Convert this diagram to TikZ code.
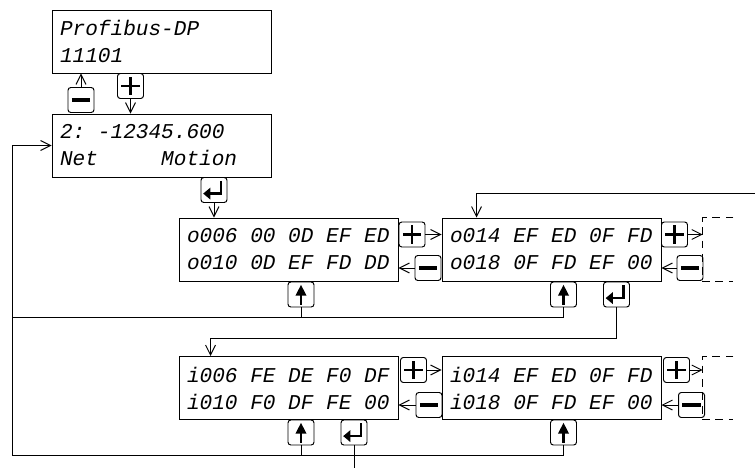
\documentclass[tikz,border=0pt]{standalone}
\usepackage{fontspec}
\setmonofont{Liberation Mono}[WordSpace={1,0,0}]
\usetikzlibrary{arrows.meta,positioning,calc}
% display font, with spaces as wide as a digit
\newcommand\lcdfont{\ttfamily\itshape\fontsize{15}{19.2}\selectfont
  \fontdimen2\font=0.6em\relax\fontdimen3\font=0pt\relax\fontdimen4\font=0pt\relax}

\begin{document}
\begin{tikzpicture}[
  every node/.style={font=\lcdfont},
  lcd/.style={draw, line width=0.7pt, minimum width=5.475cm, minimum height=1.575cm,
              text width=5.075cm, inner xsep=0.2cm, align=flush left,
              execute at begin node={\spaceskip=0pt\xspaceskip=0pt}},
  key/.style={draw, line width=0.7pt, rounded corners=2pt,
              minimum width=0.65cm, minimum height=0.625cm, inner sep=0pt},
  pluskey/.style={key, path picture={
      \coordinate (k) at (path picture bounding box.center);
      \draw[sharp corners, line width=2.1pt] (k) ++(-0.23,0) -- ++(0.46,0)
                                             (k) ++(0,-0.23) -- ++(0,0.46);}},
  minuskey/.style={key, path picture={
      \coordinate (k) at (path picture bounding box.center);
      \draw[sharp corners, line width=2.4pt] (k) ++(-0.23,0) -- ++(0.46,0);}},
  upkey/.style={key, path picture={
      \coordinate (k) at (path picture bounding box.center);
      \fill[sharp corners] (k) ++(0,0.24) -- ++(-0.14,-0.27) -- ++(0.28,0) -- cycle;
      \draw[sharp corners, line width=1.6pt] (k) -- ++(0,-0.26);}},
  enterkey/.style={key, path picture={
      \coordinate (k) at (path picture bounding box.center);
      \draw[sharp corners, line width=1.8pt] (k) ++(0.17,0.23) |- ++(-0.27,-0.32);
      \fill[sharp corners] (k) ++(-0.27,-0.09) -- ++(0.18,0.15) -- ++(0,-0.30) -- cycle;}},
  nextpage/.style={minimum width=0.75cm, minimum height=1.575cm, inner sep=0pt},
  link/.style={line width=0.7pt, -{Straight Barb[length=7pt,width=7pt]}},
  wire/.style={line width=0.7pt}
]
\useasboundingbox (0,0) rectangle (18.875,-11.725);

% displays
\node[lcd] (prof) at (4.0375,-1.0375)  {Profibus-DP\\11101};
\node[lcd] (net)  at (4.0375,-3.6375)  {2: -12345.600\\Net\ \ \ \ \ Motion};
\node[lcd] (o006) at (7.2125,-6.2375)  {o006 00 0D EF ED\\o010 0D EF FD DD};
\node[lcd] (o014) at (13.7875,-6.2375) {o014 EF ED 0F FD\\o018 0F FD EF 00};
\node[lcd] (i006) at (7.2125,-9.7)     {i006 FE DE F0 DF\\i010 F0 DF FE 00};
\node[lcd] (i014) at (13.7875,-9.7)    {i014 EF ED 0F FD\\i018 0F FD EF 00};

% following pages, only hinted
\node[nextpage] (onext) at (17.95,-6.2375) {};
\node[nextpage] (inext) at (17.95,-9.7) {};
\foreach \nd in {onext,inext}
  \draw[line width=0.7pt, dash pattern=on 5.5pt off 4pt]
    (\nd.north east) -- (\nd.north west) -- (\nd.south west) -- (\nd.south east);

% keys
\node[minuskey] (pm)  at (2.025,-2.5)      {};
\node[pluskey]  (pp)  at (3.2625,-2.15)    {};
\node[enterkey] (ne)  at (5.35,-4.75)      {};
\node[pluskey]  (op1) at (10.3,-5.8625)    {};
\node[minuskey] (om1) at (10.7,-6.7)       {};
\node[upkey]    (ou1) at (7.525,-7.3625)   {};
\node[pluskey]  (op2) at (16.8625,-5.8625) {};
\node[minuskey] (om2) at (17.25,-6.7)      {};
\node[upkey]    (ou2) at (14.0875,-7.3625) {};
\node[enterkey] (oe2) at (15.4125,-7.3625) {};
\node[pluskey]  (ip1) at (10.3375,-9.25)   {};
\node[minuskey] (im1) at (10.725,-10.125)  {};
\node[upkey]    (iu1) at (7.525,-10.8125)  {};
\node[enterkey] (ie1) at (8.85,-10.8125)   {};
\node[pluskey]  (ip2) at (16.9125,-9.25)   {};
\node[minuskey] (im2) at (17.2875,-10.125) {};
\node[upkey]    (iu2) at (14.0875,-10.8125) {};

% rails on the left
\coordinate (rail)  at (0.3,-3.6375);
\coordinate (orail) at (0.3,-7.925);
\coordinate (irail) at (0.3,-11.375);
\coordinate (ofeed) at (18.875,-4.825);

% key actions
\draw[link] (pm.north) -- (pm |- prof.south);
\draw[link] (pp.south) -- (pp |- net.north);
\draw[link] (ne.south) -- (ne |- o006.north);
\draw[link] (op1.east) -- (op1 -| o014.west);
\draw[link] (om1.west) -- (om1 -| o006.east);
\draw[link] (op2.east) -- (op2 -| onext.west);
\draw[link] (om2.west) -- (om2 -| o014.east);
\draw[link] (ip1.east) -- (ip1 -| i014.west);
\draw[link] (im1.west) -- (im1 -| i006.east);
\draw[link] (ip2.east) -- (ip2 -| inext.west);
\draw[link] (im2.west) -- (im2 -| i014.east);

% back to the top
\draw[link] (ou2.south) -- (ou2 |- orail) -- (orail) -- (rail) -- (net.west);
\draw[wire] (ou1.south) -- (ou1 |- orail);
\draw[wire] (iu2.south) -- (iu2 |- irail) -- (irail) -- (orail);
\draw[wire] (iu1.south) -- (iu1 |- irail);

% into the pages
\draw[link] (ofeed) -| ([xshift=0.875cm]o014.north west);
\draw[link] (oe2.south) -- ++(0,-0.775) -| ([xshift=0.8cm]i006.north west);
\draw[wire] (ie1.south) -- ++(0,-0.575);
\end{tikzpicture}
\end{document}
